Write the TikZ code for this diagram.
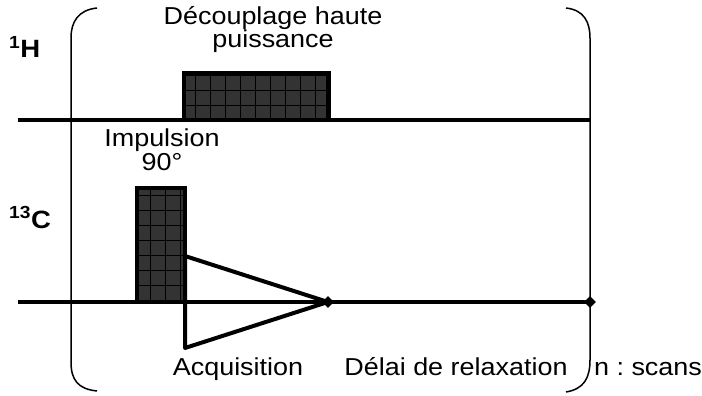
\documentclass[tikz,border=0pt]{standalone}
\usepackage{fontspec}
\setmainfont{Liberation Sans}[FakeStretch=1.1]
\usetikzlibrary{shapes.geometric}
\frenchspacing
\begin{document}
\begin{tikzpicture}[
    x=1pt, y=-1pt,
    lbl/.style={font=\fontsize{24.5}{20}\selectfont, inner sep=0pt, anchor=base, align=center},
    nuc/.style={font=\fontsize{25}{24}\selectfont\bfseries, inner sep=0pt, anchor=base west},
    pulse/.style={rectangle, draw=black, line width=4pt, fill=black!80, inner sep=0pt},
    cell/.style={draw=black, line width=0.8pt},
    base/.style={line width=4pt},
    tip/.style={diamond, fill=black, inner sep=0pt, minimum size=12pt},
    brace/.style={line width=1.5pt}
]
\useasboundingbox (0,0) rectangle (702,396);

% nuclei
\node[nuc] (H) at (9,58) {\textsuperscript{1}H};
\node[nuc] (C) at (9,228) {\textsuperscript{13}C};

% base lines
\coordinate (h0) at (18,120);
\coordinate (h1) at (590,120);
\coordinate (c0) at (18,302);
\draw[base] (h0) -- (h1);

% pulses
\node[pulse, minimum width=144, minimum height=47] (dec) at (256,96.5) {};
\draw[cell, step=15pt] (dec.north west) grid (dec.south east);
\node[pulse, minimum width=48, minimum height=114] (p90) at (161,245) {};
\draw[cell, step=15pt] (p90.north west) grid (p90.south east);

% acquisition
\coordinate (atop) at (185,256);
\coordinate (abot) at (185,348);
\node[tip] (apex) at (328,302) {};
\node[tip] (end) at (590,302) {};
\draw[base] (c0) -- (apex.center) -- (end.center);
\draw[base, line join=round] (atop) -- (apex.center) -- (abot) -- cycle;

% n scans bracket
\draw[brace] (97,8) .. controls (78,10) and (71,22) .. (71,38) -- (71,362)
    .. controls (71,380) and (78,389) .. (97,391);
\draw[brace] (566,8) .. controls (584,10) and (590,22) .. (590,38) -- (590,360)
    .. controls (590,378) and (584,389) .. (566,392);

% labels
\node[lbl] (dectxt) at (273,48) {D\'ecouplage haute\\puissance};
\node[lbl] (imp) at (162,170) {Impulsion\\90°};
\node[lbl] (acq) at (238,375) {Acquisition};
\node[lbl] (del) at (456,375) {D\'elai de relaxation};
\node[lbl] (scans) at (648,375) {n : scans};
\end{tikzpicture}
\end{document}
